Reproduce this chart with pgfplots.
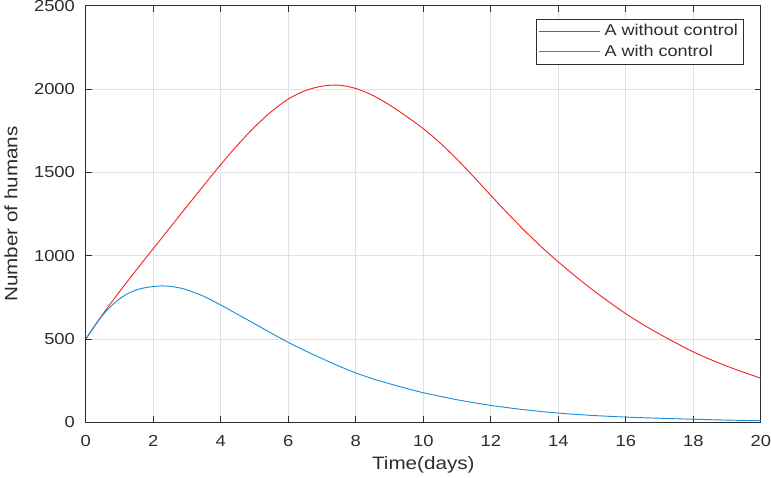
\documentclass[border=0pt]{standalone}
\usepackage{fontspec}
\setmainfont[FakeStretch=1.15]{Liberation Sans}
\usepackage{pgfplots}
\pgfplotsset{compat=1.18}
\definecolor{mred}{RGB}{242,38,38}
\definecolor{mblue}{RGB}{25,145,215}
\definecolor{axgray}{RGB}{45,45,45}
\definecolor{gridgray}{RGB}{224,226,232}
\begin{document}
\begin{tikzpicture}
\begin{axis}[
    width=507.75pt, height=313.5pt,
    scale only axis,
    xmin=0, xmax=20, ymin=0, ymax=2500,
    xtick={0,2,...,20}, ytick={0,500,...,2500},
    grid=major,
    major grid style={draw=gridgray, line width=0.6pt},
    axis line style={draw=axgray, line width=0.6pt},
    tick style={draw=axgray, line width=0.6pt},
    tick align=inside,
    major tick length=4.5pt,
    ticklabel style={font=\fontsize{12}{14}\selectfont, text=axgray},
    xticklabel style={anchor=base, inner sep=0pt, yshift=-18pt},
    yticklabel style={anchor=east, inner sep=0pt, xshift=-8pt},
    /pgf/number format/assume math mode=true,
    /pgf/number format/1000 sep={},
    xlabel={Time(days)}, ylabel={Number of humans},
    label style={font=\fontsize{13.5}{16}\selectfont, text=axgray},
    xlabel style={at={(axis description cs:0.5,-0.1124)}, anchor=base},
    ylabel style={at={(axis description cs:-0.1108,0.5)}, anchor=center, rotate=0},
    legend style={at={(axis description cs:0.9749,0.9689)}, anchor=north east,
        draw=axgray, line width=0.6pt,
        font=\fontsize{11.8}{14}\selectfont, text=axgray,
        row sep=0pt, inner xsep=1.5pt, inner ysep=1.5pt,
        nodes={inner sep=2.7pt}},
    legend cell align=left,
]
\addplot[mred, line width=0.7pt, smooth,
    legend image code/.code={\draw[mred, line width=0.7pt] (0pt,0pt) -- (46.5pt,0pt);}]
coordinates {
(0,500) (0.5,648) (1,785) (1.5,915) (2,1043) (2.5,1170) (3,1297)
(3.5,1423) (4,1547) (4.5,1665) (5,1772) (5.5,1865) (6,1940) (6.5,1990)
(7,2017) (7.5,2023) (8,2003) (8.5,1962) (9,1904) (9.5,1836)
(10,1762) (10.5,1676) (11,1578) (11.5,1472) (12,1362) (12.5,1254) (13,1150)
(13.5,1053) (14,963) (14.5,878) (15,798) (15.5,723) (16,652) (16.5,588)
(17,530) (17.5,475) (18,423) (18.5,378) (19,337) (19.5,300) (20,265)};
\addlegendentry{A without control}
\addplot[mblue, line width=0.7pt, smooth,
    legend image code/.code={\draw[mblue, line width=0.7pt] (0pt,0pt) -- (46.5pt,0pt);}]
coordinates {
(0,500) (0.25,576) (0.5,643) (0.75,698) (1,741) (1.25,773) (1.5,795)
(1.75,808) (2,815) (2.25,819) (2.5,816) (2.75,808) (3,795) (3.5,756)
(4,704) (4.5,648) (5,592) (5.5,535) (6,480) (6.5,430) (7,383) (7.5,338)
(8,297) (8.5,262) (9,232) (9.5,204) (10,178) (11,136) (12,102) (13,76)
(14,56) (15,42) (16,32) (17,25) (18,19) (19,14) (20,10)};
\addlegendentry{A with control}
\end{axis}
\end{tikzpicture}
\end{document}
